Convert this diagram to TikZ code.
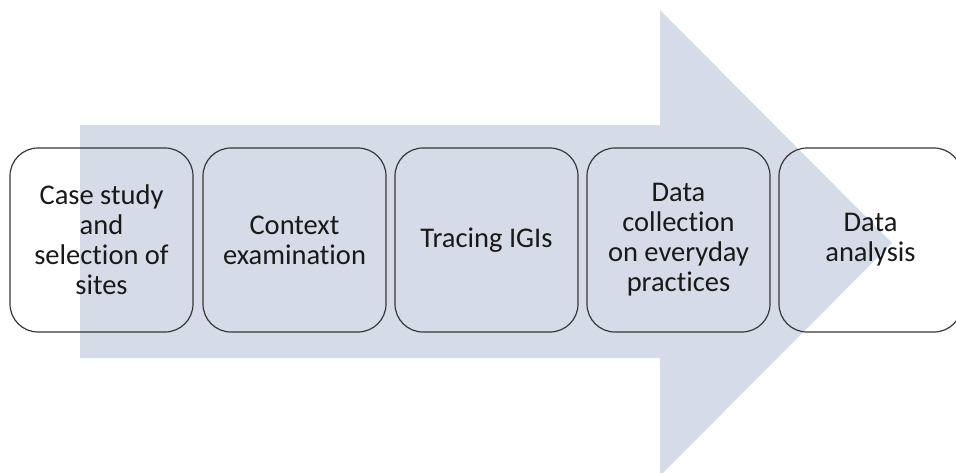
\documentclass[tikz,border=0pt]{standalone}
\usepackage{fontspec}
\setmainfont{Carlito}[Ligatures=NoCommon]
\definecolor{arrowfill}{RGB}{213,220,232}
\definecolor{boxline}{RGB}{55,55,55}
\begin{document}
\begin{tikzpicture}[x=1pt,y=-1pt,
  stagebox/.style={draw=boxline, line width=1.2pt, rounded corners=28pt,
    minimum width=183pt, minimum height=184pt, align=center,
    font=\fontsize{28.5}{30}\selectfont, text=black!90}]
\useasboundingbox (0,0) rectangle (956,472);
% big process arrow in the background
\fill[arrowfill] (80,125) -- (660,125) -- (660,10) -- (892,243)
  -- (660,476) -- (660,358) -- (80,358) -- cycle;
% the five stages
\node[stagebox] (s1) at (101.5,240) {Case study\\and\\selection of\\sites};
\node[stagebox] (s2) at (294.5,240) {Context\\examination};
\node[stagebox] (s3) at (486.5,240) {Tracing IGIs};
\node[stagebox] (s4) at (678.5,240) {Data\\collection\\on everyday\\practices};
\node[stagebox] (s5) at (870.5,240) {Data\\analysis};
\end{tikzpicture}
\end{document}
